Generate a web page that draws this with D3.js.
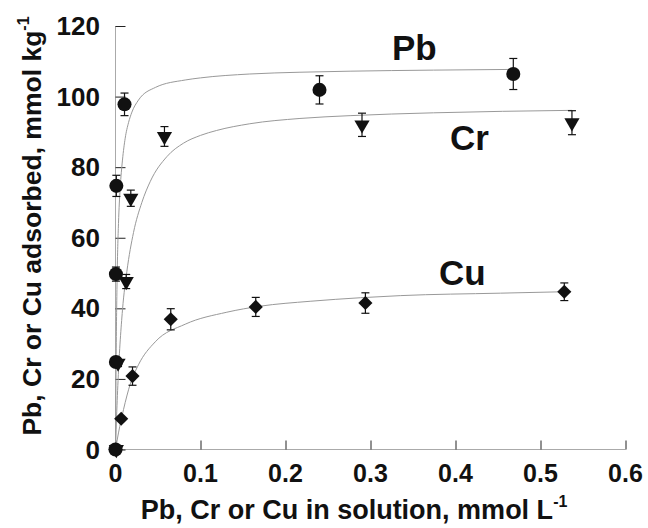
<!DOCTYPE html>
<html>
  <head>
    <meta charset="utf-8">
    <script src="https://unpkg.com/d3@7/dist/d3.min.js"></script>
    <style>
      body { margin: 0; background: #fff; }
      text { font-family: "Liberation Sans", Arial, sans-serif; font-weight: bold; fill: #111; }
      .fit { fill: none; stroke: #999; stroke-width: 1px; }
      .err { stroke: #111; stroke-width: 1.2px; }
    </style>
  </head>
  <body>
    <script>
      // measured points (solution conc., mmol/L ; adsorbed, mmol/kg ; error)
      const pbC = [0, 0.0005, 0.0005, 0.001, 0.0106, 0.240, 0.468];
      const pbQ = [0, 24.8, 49.7, 74.7, 97.8, 101.9, 106.4];
      const pbErr = [0, 1, 2, 3, 3.2, 4.0, 4.4];

      const crC = [0.001, 0.003, 0.0126, 0.018, 0.0576, 0.290, 0.537];
      const crQ = [0, 24.5, 47.6, 71.2, 88.7, 92.0, 92.6];
      const crErr = [0, 1, 2, 2.3, 2.8, 3.3, 3.4];

      const cuC = [0, 0.0067, 0.020, 0.065, 0.165, 0.294, 0.528];
      const cuQ = [0, 8.7, 20.8, 36.9, 40.4, 41.5, 44.7];
      const cuErr = [0, 0, 2.6, 3.0, 2.7, 2.9, 2.5];

      // fitted isotherm lines
      const pbFitC = [0, 0.001, 0.002, 0.0035, 0.0055, 0.0082, 0.0114, 0.0153, 0.0193, 0.027, 0.047, 0.082, 0.10, 0.158, 0.217, 0.276, 0.374, 0.468];
      const pbFitQ = [0, 32, 50, 64, 74, 82, 88.2, 92.6, 95.6, 99.0, 102.6, 104.7, 105.3, 106.4, 106.9, 107.2, 107.5, 107.7];

      const crFitC = [0, 0.001, 0.003, 0.0082, 0.0134, 0.0212, 0.031, 0.041, 0.0605, 0.08, 0.10, 0.119, 0.158, 0.217, 0.276, 0.374, 0.537];
      const crFitQ = [0, 7.5, 19.5, 39.5, 50.5, 61.5, 70, 76, 83, 86.8, 89.0, 90.4, 92.3, 93.8, 94.6, 95.4, 96.1];

      const cuFitC = [0, 0.0035, 0.0094, 0.0173, 0.027, 0.0467, 0.082, 0.131, 0.17, 0.229, 0.288, 0.335, 0.453, 0.528];
      const cuFitQ = [0, 4.7, 11.3, 18.5, 24, 30.5, 35.5, 38.9, 40.6, 42.0, 43.0, 43.6, 44.3, 44.7];

      const xTicks = [0, 0.1, 0.2, 0.3, 0.4, 0.5, 0.6];
      const yTicks = [0, 20, 40, 60, 80, 100, 120];

      const width = 648;
      const height = 528;

      const x = d3.scaleLinear().domain([0, 0.6]).range([115.5, 625.5]);
      const y = d3.scaleLinear().domain([0, 120]).range([449.5, 26]);

      const svg = d3.select('body')
        .append('svg')
        .attr('width', width)
        .attr('height', height);

      // axes
      const xAxis = svg.append('g')
        .attr('transform', `translate(0,${y(0)})`)
        .call(d3.axisTop(x).tickValues(xTicks).tickSize(9).tickFormat(''));
      xAxis.select('.domain').attr('stroke', '#aaa').attr('d', `M${x(0)},0H${x(0.6)}`);
      xAxis.selectAll('.tick line').attr('stroke', '#222');

      const yAxis = svg.append('g')
        .attr('transform', `translate(${x(0)},0)`)
        .call(d3.axisRight(y).tickValues(yTicks).tickSize(10).tickFormat(''));
      yAxis.select('.domain').attr('stroke', '#aaa').attr('d', `M0,${y(0)}V${y(120)}`);
      yAxis.selectAll('.tick line').attr('stroke', '#222');

      svg.selectAll('.xlab').data(xTicks).enter()
        .append('text')
        .attr('x', d => x(d))
        .attr('y', 482)
        .attr('text-anchor', 'middle')
        .style('font-size', '25px')
        .text(d => d === 0 ? '0' : d.toFixed(1));

      svg.selectAll('.ylab').data(yTicks).enter()
        .append('text')
        .attr('x', 100)
        .attr('y', d => y(d) + 9)
        .attr('text-anchor', 'end')
        .style('font-size', '26px')
        .text(d => d);

      // axis titles
      const xt = svg.append('text')
        .attr('x', 354)
        .attr('y', 519)
        .attr('text-anchor', 'middle')
        .style('font-size', '27px');
      xt.append('tspan').text('Pb, Cr or Cu in solution, mmol L');
      xt.append('tspan').attr('dy', -12).style('font-size', '16px').text('-1');

      const yt = svg.append('text')
        .attr('transform', 'translate(41,226) rotate(-90)')
        .attr('text-anchor', 'middle')
        .style('font-size', '26.5px');
      yt.append('tspan').text('Pb, Cr or Cu adsorbed, mmol kg');
      yt.append('tspan').attr('dy', -12).style('font-size', '16px').text('-1');

      // fit lines
      const line = d3.line()
        .x(d => x(d[0]))
        .y(d => y(d[1]))
        .curve(d3.curveMonotoneX);

      [[pbFitC, pbFitQ], [crFitC, crFitQ], [cuFitC, cuFitQ]].forEach(([cs, qs]) => {
        svg.append('path')
          .attr('class', 'fit')
          .attr('d', line(cs.map((c, i) => [c, qs[i]])));
      });

      // error bars and markers
      const series = [
        { c: pbC, q: pbQ, e: pbErr, sym: d3.symbolCircle, size: 155 },
        { c: crC, q: crQ, e: crErr, sym: d3.symbolTriangle, size: 100, rot: 180 },
        { c: cuC, q: cuQ, e: cuErr, sym: d3.symbolSquare, size: 100, rot: 45 }
      ];

      series.forEach(s => {
        const pts = s.c.map((c, i) => ({ c: c, q: s.q[i], e: s.e[i] }));
        const g = svg.append('g');
        const eb = g.selectAll('.eb').data(pts.filter(d => d.e > 0)).enter().append('g');
        eb.append('line').attr('class', 'err')
          .attr('x1', d => x(d.c)).attr('x2', d => x(d.c))
          .attr('y1', d => y(d.q + d.e)).attr('y2', d => y(d.q - d.e));
        eb.append('line').attr('class', 'err')
          .attr('x1', d => x(d.c) - 4).attr('x2', d => x(d.c) + 4)
          .attr('y1', d => y(d.q + d.e)).attr('y2', d => y(d.q + d.e));
        eb.append('line').attr('class', 'err')
          .attr('x1', d => x(d.c) - 4).attr('x2', d => x(d.c) + 4)
          .attr('y1', d => y(d.q - d.e)).attr('y2', d => y(d.q - d.e));

        g.selectAll('.pt').data(pts).enter()
          .append('path')
          .attr('d', d3.symbol().type(s.sym).size(s.size))
          .attr('transform', d => `translate(${x(d.c)},${y(d.q)})` + (s.rot ? ` rotate(${s.rot})` : ''))
          .attr('fill', '#111');
      });

      // series labels
      svg.append('text').attr('x', 392).attr('y', 60).style('font-size', '35px').text('Pb');
      svg.append('text').attr('x', 450).attr('y', 150).style('font-size', '35px').text('Cr');
      svg.append('text').attr('x', 439).attr('y', 285).style('font-size', '35px').text('Cu');
    </script>
  </body>
</html>
